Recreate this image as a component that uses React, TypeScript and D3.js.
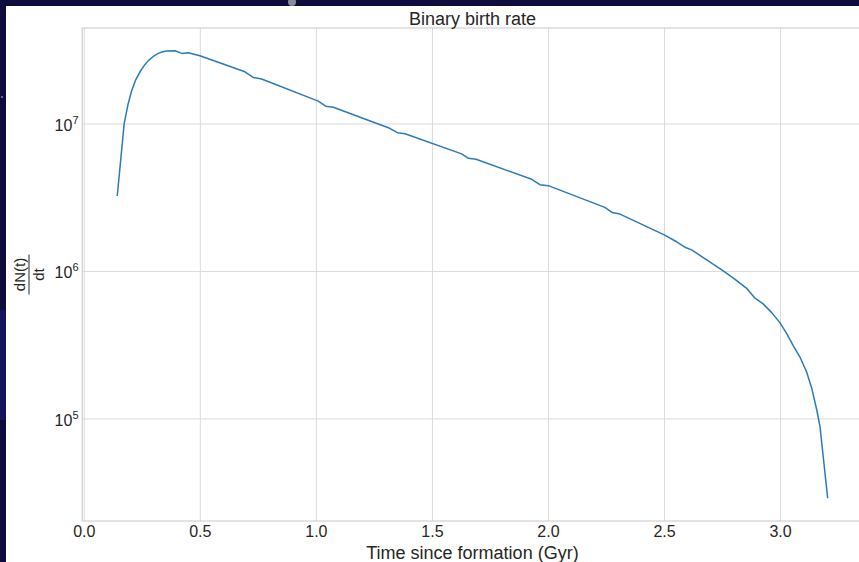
import React, { useEffect } from "react";
import * as d3 from "d3";

const times = [0.142, 0.172, 0.188, 0.204, 0.222, 0.24, 0.258, 0.276, 0.297, 0.319, 0.337, 0.355, 0.391, 0.42, 0.448, 0.498, 0.692, 0.728, 0.764, 1.008, 1.04, 1.073, 1.31, 1.349, 1.382, 1.626, 1.655, 1.688, 1.928, 1.963, 1.999, 2.243, 2.275, 2.308, 2.499, 2.552, 2.588, 2.617, 2.685, 2.753, 2.804, 2.854, 2.89, 2.925, 2.962, 2.997, 3.026, 3.055, 3.083, 3.112, 3.135, 3.156, 3.17, 3.203];
const rates = [3.25e6, 1.01e7, 1.35e7, 1.68e7, 2.0e7, 2.26e7, 2.49e7, 2.69e7, 2.87e7, 3.01e7, 3.09e7, 3.13e7, 3.14e7, 3.01e7, 3.04e7, 2.9e7, 2.26e7, 2.07e7, 2.02e7, 1.43e7, 1.32e7, 1.3e7, 9.44e6, 8.73e6, 8.59e6, 6.27e6, 5.85e6, 5.77e6, 4.22e6, 3.88e6, 3.82e6, 2.72e6, 2.51e6, 2.45e6, 1.77e6, 1.59e6, 1.46e6, 1.4e6, 1.19e6, 1.01e6, 8.85e5, 7.69e5, 6.59e5, 6.03e5, 5.26e5, 4.5e5, 3.81e5, 3.13e5, 2.64e5, 2.09e5, 1.6e5, 1.15e5, 8.87e4, 2.9e4];
const xTicks = [0, 0.5, 1.0, 1.5, 2.0, 2.5, 3.0];
const yTickExps = [5, 6, 7];

const W = 859;
const H = 562;
const FONT = "'Liberation Sans', Arial, sans-serif";

export default function App() {
  useEffect(() => {
    document.body.style.margin = "0";
  }, []);

  const left = 82.3;
  const right = 862.6;
  const top = 28;
  const bottom = 521;

  const x = d3.scaleLinear().domain([-0.0086, 3.3535]).range([left, right]);
  const y = d3.scaleLog().domain([Math.pow(10, 4.308), Math.pow(10, 7.651)]).range([bottom, top]);

  const pts: [number, number][] = times.map((t, i) => [t, rates[i]]);
  const line = d3
    .line<[number, number]>()
    .x((d) => x(d[0]))
    .y((d) => y(d[1]))
    .curve(d3.curveLinear);

  const gridColor = "#dadada";
  const textColor = "#262626";

  return (
    <svg width={W} height={H} style={{ display: "block" }}>
      <rect x={0} y={0} width={W} height={H} fill="#0e0c3c" />
      <rect x={0} y={310} width={6} height={110} fill="#15135c" />
      <circle cx={292} cy={2} r={4} fill="#8a8a9a" />
      <circle cx={2} cy={97} r={1} fill="#8a8a9a" />
      <rect x={6} y={6} width={W - 6} height={H - 6} fill="#ffffff" />

      {xTicks.map((t) => (
        <line key={"gx" + t} x1={x(t)} x2={x(t)} y1={top} y2={bottom} stroke={gridColor} strokeWidth={1} />
      ))}
      {yTickExps.map((e) => (
        <line key={"gy" + e} x1={left} x2={right} y1={y(Math.pow(10, e))} y2={y(Math.pow(10, e))} stroke={gridColor} strokeWidth={1} />
      ))}
      <rect x={left} y={top} width={right - left} height={bottom - top} fill="none" stroke="#d0d0d0" strokeWidth={1.2} />

      <path d={line(pts) || ""} fill="none" stroke="#2a7bb8" strokeWidth={1.5} strokeLinejoin="round" />

      {xTicks.map((t) => (
        <text key={"tx" + t} x={x(t)} y={537} textAnchor="middle" fontFamily={FONT} fontSize={16} fill={textColor}>
          {t.toFixed(1)}
        </text>
      ))}
      {yTickExps.map((e) => (
        <text key={"ty" + e} x={78.5} y={y(Math.pow(10, e)) + 7} textAnchor="end" fontFamily={FONT} fontSize={16} fill={textColor}>
          10
          <tspan fontSize={11} dy={-7}>
            {e}
          </tspan>
        </text>
      ))}

      <text x={(left + right) / 2} y={25} textAnchor="middle" fontFamily={FONT} fontSize={18} fill={textColor}>
        Binary birth rate
      </text>
      <text x={(left + right) / 2} y={559} textAnchor="middle" fontFamily={FONT} fontSize={18} fill={textColor}>
        Time since formation (Gyr)
      </text>

      <g transform={`translate(29, ${(top + bottom) / 2}) rotate(-90)`}>
        <text x={0} y={-4.5} textAnchor="middle" fontFamily={FONT} fontSize={15} fill={textColor}>
          dN(t)
        </text>
        <line x1={-20} x2={20} y1={0} y2={0} stroke={textColor} strokeWidth={1} />
        <text x={0} y={14.5} textAnchor="middle" fontFamily={FONT} fontSize={15} fill={textColor}>
          dt
        </text>
      </g>
    </svg>
  );
}
